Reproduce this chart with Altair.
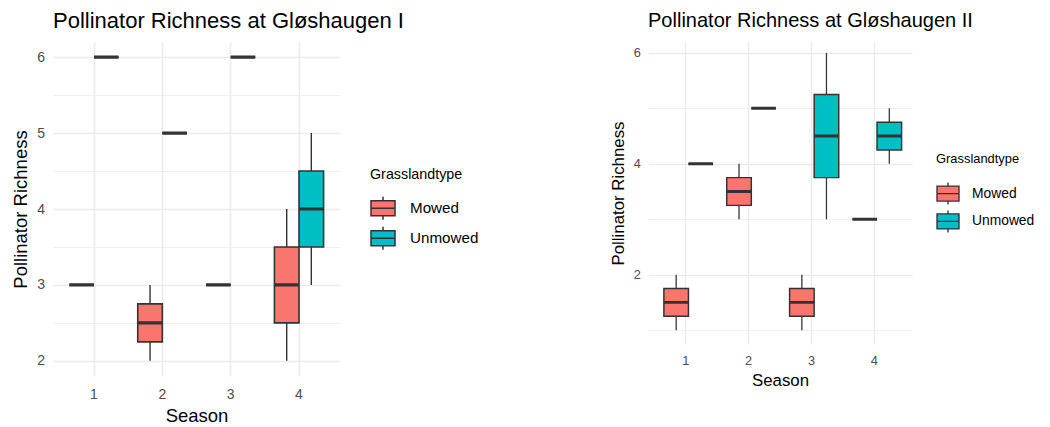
import altair as alt
import pandas as pd

seasons = ["1", "2", "3", "4"]
types = ["Mowed", "Unmowed"]
colors = ["#F8766D", "#00BFC4"]

# rows: season/type pairs
row_season = ["1", "1", "2", "2", "3", "3", "4", "4"]
row_type = ["Mowed", "Unmowed", "Mowed", "Unmowed", "Mowed", "Unmowed", "Mowed", "Unmowed"]

# Gløshaugen I (box statistics)
g1_min = [3, 6, 2, 5, 3, 6, 2, 3]
g1_q1 = [3, 6, 2.25, 5, 3, 6, 2.5, 3.5]
g1_med = [3, 6, 2.5, 5, 3, 6, 3, 4]
g1_q3 = [3, 6, 2.75, 5, 3, 6, 3.5, 4.5]
g1_max = [3, 6, 3, 5, 3, 6, 4, 5]

# Gløshaugen II (box statistics)
g2_min = [1, 4, 3, 5, 1, 3, 3, 4]
g2_q1 = [1.25, 4, 3.25, 5, 1.25, 3.75, 3, 4.25]
g2_med = [1.5, 4, 3.5, 5, 1.5, 4.5, 3, 4.5]
g2_q3 = [1.75, 4, 3.75, 5, 1.75, 5.25, 3, 4.75]
g2_max = [2, 4, 4, 5, 2, 6, 3, 5]

# y-axis tick values (major + minor grid)
g1_ticks = [2, 2.5, 3, 3.5, 4, 4.5, 5, 5.5, 6]
g2_ticks = [1, 2, 3, 4, 5, 6]


def make_df(mn, q1, med, q3, mx):
    return pd.DataFrame({
        "Season": row_season, "Grasslandtype": row_type,
        "min": mn, "q1": q1, "med": med, "q3": q3, "max": mx,
    })


def panel(df, title, w, h, ydom, yticks, minor_test, major_test, s, legend_opts,
          symsize, symtype, xlabpad, xtitpad, toff):
    x = alt.X("Season:N", sort=seasons, title="Season",
              scale=alt.Scale(paddingInner=0, paddingOuter=0.1),
              axis=alt.Axis(labelAngle=0, bandPosition=0.5, grid=True,
                            gridWidth=1.6 * s, labelPadding=xlabpad,
                            titlePadding=xtitpad,
                            labelFontSize=14 * s, titleFontSize=18.5 * s))
    xo = alt.XOffset("Grasslandtype:N", sort=types,
                     scale=alt.Scale(domain=types, paddingInner=0, paddingOuter=0.39))

    def y(field):
        return alt.Y(field, type="quantitative", title="Pollinator Richness",
                     scale=alt.Scale(domain=ydom, nice=False, zero=False),
                     axis=alt.Axis(values=yticks,
                                   labelExpr=f"{major_test} ? format(datum.value, 'd') : ''",
                                   gridWidth=alt.condition(minor_test, alt.value(0.8 * s), alt.value(1.6 * s)),
                                   labelPadding=8.5 * s, titlePadding=6,
                                   labelFontSize=14 * s, titleFontSize=18.5 * s))

    base = alt.Chart(df)
    whisk = base.mark_rule(color="#333333", strokeWidth=1.4 * s).encode(
        x=x, xOffset=xo, y=y("min"), y2="max")
    box = base.mark_bar(stroke="#333333", strokeWidth=1.6 * s).encode(
        x=x, xOffset=xo, y=y("q1"), y2="q3",
        fill=alt.Fill("Grasslandtype:N", sort=types,
                      scale=alt.Scale(domain=types, range=colors),
                      legend=alt.Legend(symbolType=symtype, symbolSize=symsize,
                                        symbolStrokeColor="#333333",
                                        symbolStrokeWidth=1.5 * s,
                                        labelFontSize=15.2 * s,
                                        titleFontWeight="normal", titleColor="black",
                                        labelColor="black", **legend_opts)))
    med = base.mark_bar(stroke="#333333", strokeWidth=3.2 * s, fillOpacity=0).encode(
        x=x, xOffset=xo, y=y("med"), y2="med")
    return alt.layer(whisk, box, med).properties(
        width=w, height=h,
        title=alt.TitleParams(title, anchor="start", frame="group",
                              fontSize=22 * s, fontWeight="normal", color="black",
                              offset=toff))


sym1 = "M-1,-0.62L1,-0.62L1,0.62L-1,0.62Z M-1,0L1,0 M0,-0.62L0,-0.96 M0,0.62L0,0.96"
sym2 = "M-1,-0.68L1,-0.68L1,0.68L-1,0.68Z M-1,0L1,0 M0,-0.68L0,-1 M0,0.68L0,1"

left = panel(make_df(g1_min, g1_q1, g1_med, g1_q3, g1_max),
             "Pollinator Richness at Gløshaugen I", 287, 334, [1.8, 6.2], g1_ticks,
             "datum.value % 1 !== 0", "datum.value % 1 === 0", 1.0,
             dict(title="Grasslandtype", titleFontSize=14.3, orient="none",
                  legendX=317, legendY=126, padding=0, titlePadding=13,
                  rowPadding=0, labelOffset=14),
             576, sym1, 11, 5.5, 9)
right = panel(make_df(g2_min, g2_q1, g2_med, g2_q3, g2_max),
              "Pollinator Richness at Gløshaugen II", 264, 302, [0.75, 6.196], g2_ticks,
              "datum.value % 2 === 1", "datum.value % 2 === 0", 0.91,
              dict(title=["", "Grasslandtype"], titleFontSize=12.9,
                   titleLineHeight=111.3, orient="right", offset=24, padding=0,
                   titlePadding=15.4, rowPadding=-0.2, labelOffset=12),
              484, sym2, 10, 6, 11.3)

chart = alt.hconcat(left, right, spacing=131).resolve_scale(
    color="independent", y="independent", x="independent"
).resolve_legend(color="independent").properties(
    padding={"left": 3, "top": 2, "right": 0, "bottom": 0}
).configure(
    font="Liberation Sans"
).configure_view(
    strokeWidth=0
).configure_axis(
    domain=False, ticks=False, gridColor="#EBEBEB",
    labelColor="#4D4D4D", titleColor="black", titleFontWeight="normal"
)

chart.save("out.html", embed_options={"renderer": "svg", "actions": False})
